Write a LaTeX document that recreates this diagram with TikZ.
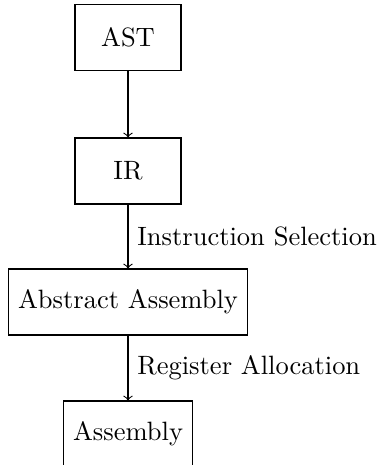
\documentclass[tikz,border=0pt]{standalone}
\begin{document}
\begin{tikzpicture}[x=0.3774pt,y=-0.3774pt,
  box/.style={draw,rectangle,minimum height=24.9pt,inner xsep=3.7pt,minimum width=40pt,font=\normalsize},
  flow/.style={->,>=to},
  lbl/.style={right,inner sep=3.33pt}]
\useasboundingbox (0,0) rectangle (380,465);
\clip (0,0) rectangle (380,465);
\node[box] (ast) at (128,37.5) {AST};
\node[box] (ir) at (128,171) {IR};
\node[box] (abs) at (128,302) {Abstract Assembly};
\node[box,minimum width=48.3pt] (asm) at (128,434) {Assembly};
\draw[flow] (ast) -- (ir);
\draw[flow] (ir) -- node[lbl] (l1) {Instruction Selection} (abs);
\draw[flow] (abs) -- node[lbl] (l2) {Register Allocation} (asm);
\end{tikzpicture}
\end{document}
